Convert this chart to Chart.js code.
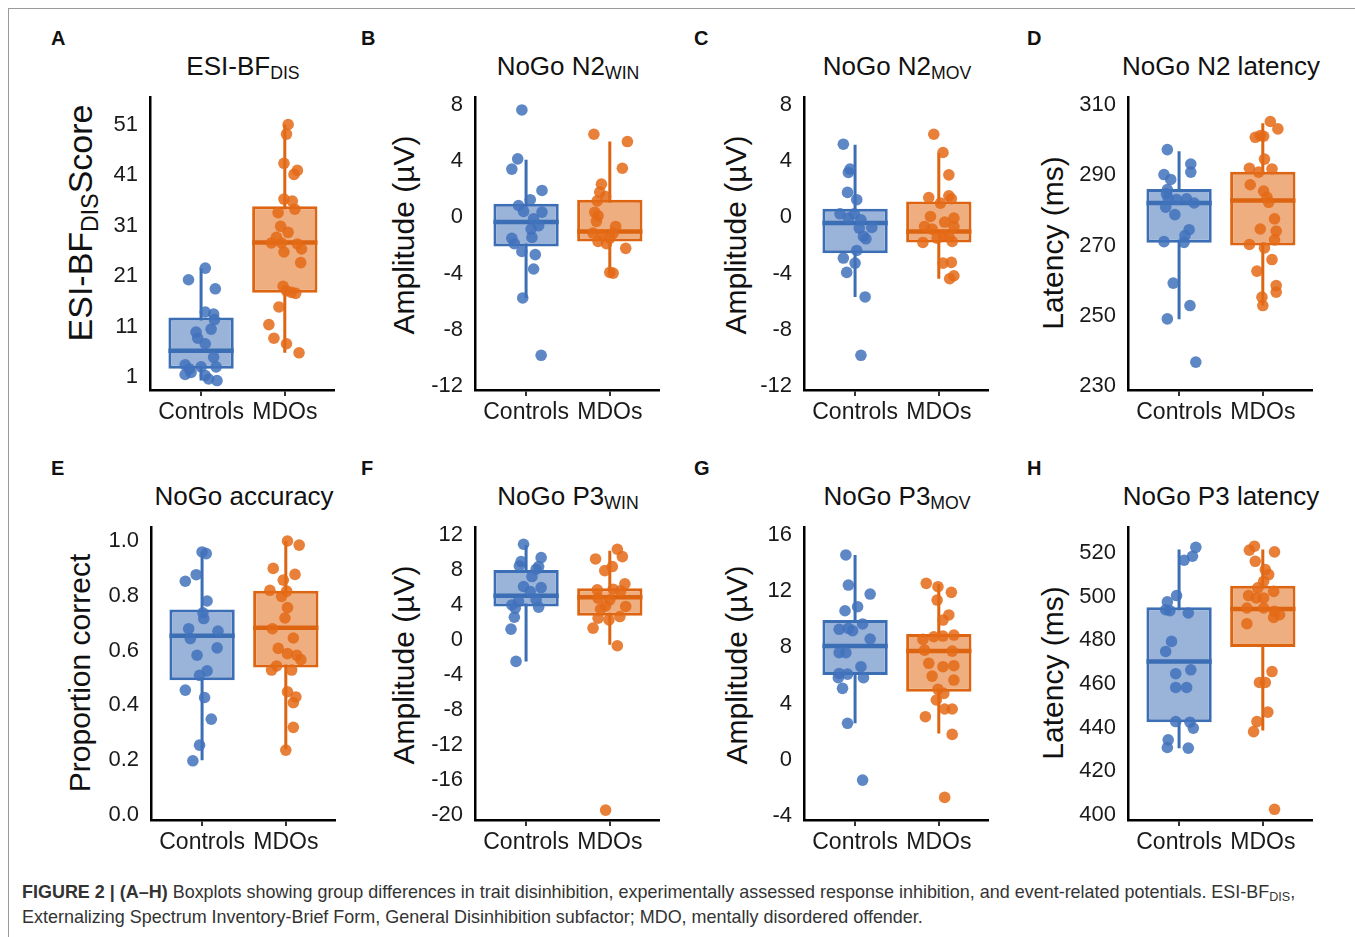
<!DOCTYPE html>
<html>
<head>
<meta charset="utf-8">
<script src="https://cdn.jsdelivr.net/npm/chart.js@4.4.0/dist/chart.umd.min.js"></script>
<style>
body { margin: 0; width: 1355px; height: 937px; position: relative; overflow: hidden; background: #fff;
       font-family: "Liberation Sans", Arial, sans-serif; color: #111; }
.frame { position: absolute; left: 8px; top: 8px; width: 1400px; height: 1000px;
         border-left: 1px solid #9a9a9a; border-top: 1px solid #9a9a9a; }
.letter { position: absolute; font-weight: bold; font-size: 20px; line-height: 20px; }
.title { position: absolute; width: 320px; margin-left: -160px; text-align: center; font-size: 26px;
         line-height: 26px; white-space: nowrap; }
.title sub, .ytitle sub { font-size: 0.68em; vertical-align: -0.25em; line-height: 0; }
.ytitle { position: absolute; font-size: 30px; line-height: 30px; white-space: nowrap;
          transform: translate(-50%, -50%) rotate(-90deg); }
canvas { position: absolute; }
.caption { position: absolute; left: 22px; top: 879px; font-family: "Liberation Sans", Arial, sans-serif;
           font-size: 19px; line-height: 25px; color: #333; white-space: nowrap;
           transform: scaleX(0.945); transform-origin: 0 0; }
.caption sub { font-size: 0.7em; vertical-align: -0.2em; line-height: 0; }
</style>
</head>
<body>
<div class="frame"></div>

<script>
const groups = ['Controls', 'MDOs'];

// each point: [horizontal jitter from group centre, value]
// box stats: [lower whisker, Q1, median, Q3, upper whisker]

// A  ESI-BF DIS
const aTicks = [1, 11, 21, 31, 41, 51];
const aCtrl = [[0.05,22.6],[-0.15,20.3],[0.17,18.5],[0.05,13.9],[0.15,13.5],[0.16,12.4],[0.12,10.5],[-0.06,9.9],[-0.04,8.7],[0.05,7.6],
  [0.15,4.9],[-0.19,3.4],[-0.14,2.6],[0,3.0],[0.18,3.0],[-0.19,1.5],[-0.12,1.9],[0.05,1.3],[0.09,0.6],[0.19,0.3]];
const aMdo = [[0.04,51.1],[0.02,49.2],[-0.01,43.4],[0.15,42.0],[0.11,41.2],[-0.01,36.3],[0.09,35.9],[-0.08,33.6],[0.12,34.3],[-0.05,30.9],
  [0.04,29.7],[-0.1,28.7],[-0.16,27.6],[-0.04,27.6],[0.15,27.4],[0.2,26.4],[-0.01,25.8],[0.19,23.7],[-0.02,19.0],[0.02,18.1],
  [0.08,17.8],[0.13,17.6],[-0.07,14.9],[-0.19,11.4],[-0.13,8.7],[0.02,7.6],[0.17,5.8]];
const aCtrlBox = [0.3, 2.65, 6.2, 12.8, 22.6];
const aMdoBox = [5.8, 17.7, 27.7, 34.9, 51.1];

// B  NoGo N2 WIN
const bTicks = [8, 4, 0, -4, -8, -12];
const bCtrl = [[-0.05,7.65],[-0.1,4.17],[-0.17,3.44],[0.19,1.92],[0.05,1.26],[-0.09,0.85],[-0.03,0.43],[0.19,0.38],[0.09,-0.09],[0.15,-0.59],
  [0.06,-0.83],[-0.17,-1.49],[0.07,-1.42],[-0.14,-1.87],[-0.05,-2.42],[0.11,-2.65],[0.09,-3.67],[-0.04,-5.73],[0.18,-9.81]];
const bMdo = [[-0.19,5.92],[0.21,5.4],[0.15,3.5],[-0.1,2.37],[-0.12,1.8],[-0.05,1.49],[-0.15,1.18],[-0.18,0.36],[-0.14,0.12],[-0.16,-0.28],
  [0.07,-0.64],[-0.2,-1.11],[-0.09,-1.23],[0.04,-1.11],[0,-1.47],[-0.14,-1.71],[-0.04,-1.87],[0.19,-2.2],[0,-3.91],[0.04,-3.96]];
const bCtrlBox = [-5.73, -2.06, -0.33, 0.97, 4.1];
const bMdoBox = [-3.96, -1.71, -1.0, 1.26, 5.4];

// C  NoGo N2 MOV
const cTicks = [8, 4, 0, -4, -8, -12];
const cCtrl = [[-0.14,5.21],[-0.06,3.44],[-0.08,3.2],[-0.09,1.78],[0.02,1.26],[-0.18,0.26],[-0.01,0.26],[-0.08,-0.05],[0.07,-0.17],[0.05,-0.76],
  [0.2,-0.71],[0.1,-1.35],[0.13,-1.52],[0.02,-2.35],[-0.14,-2.89],[0,-3.25],[-0.1,-3.91],[0.12,-5.66],[0.07,-9.81]];
const cMdo = [[-0.06,5.92],[0.05,4.62],[0.12,3.03],[-0.12,1.42],[0.12,1.54],[0.15,1.33],[0.02,1.02],[-0.1,0.07],[0.18,-0.05],[0.07,-0.33],
  [0.18,-0.64],[-0.17,-0.64],[-0.08,-0.83],[0.05,-1.23],[-0.02,-1.47],[-0.19,-1.78],[0.16,-1.71],[0.12,-1.35],[0.05,-3.25],[0.15,-3.2],
  [0.13,-4.36],[0.18,-4.15]];
const cCtrlBox = [-5.66, -2.54, -0.4, 0.62, 5.17];
const cMdoBox = [-4.36, -1.78, -1.0, 1.14, 4.57];

// D  NoGo N2 latency
const dTicks = [310, 290, 270, 250, 230];
const dCtrl = [[-0.14,297.3],[0.14,293.2],[0.14,290.9],[-0.18,290.2],[-0.1,288.8],[-0.14,285.9],[-0.15,284.7],[-0.13,283.5],[-0.03,283.1],[0.09,283.3],
  [0.18,282.1],[-0.16,280.9],[-0.05,278.8],[0.12,274.5],[0.07,272.8],[0.06,270.9],[-0.18,271.1],[-0.07,259.3],[0.13,252.9],[-0.14,249.1],[0.2,236.8]];
const dMdo = [[0.09,305.3],[0.18,303.2],[-0.03,301.3],[-0.09,300.8],[0.01,301.1],[0.02,294.6],[-0.16,292.0],[0.11,291.8],[-0.05,290.9],[-0.15,287.3],
  [0.01,285.5],[0.05,283.7],[0.07,282.3],[0.14,277.6],[-0.03,274.7],[0.16,274.1],[0.14,271.6],[-0.16,270.3],[0.02,269.3],[0.11,266.0],
  [-0.07,262.7],[0.16,258.6],[0.16,256.7],[-0.01,255.3],[0,252.9]];
const dCtrlBox = [249.0, 270.8, 282.1, 286.1, 296.8];
const dMdoBox = [252.9, 270.0, 282.8, 291.0, 304.8];

// E  NoGo accuracy
const eTicks = [1.0, 0.8, 0.6, 0.4, 0.2, 0.0];
const eCtrl = [[0,0.96],[0.05,0.954],[-0.07,0.877],[-0.2,0.853],[0.06,0.781],[0.01,0.738],[0.02,0.717],[-0.16,0.68],[0.19,0.671],[-0.14,0.644],
  [0.18,0.61],[-0.06,0.583],[0.06,0.526],[-0.03,0.51],[-0.2,0.456],[0.03,0.429],[0.11,0.35],[-0.03,0.255],[-0.11,0.198]];
const eMdo = [[0.02,1.0],[0.16,0.985],[-0.15,0.9],[0.11,0.878],[-0.03,0.857],[-0.19,0.82],[0.01,0.817],[-0.05,0.798],[0.02,0.757],[-0.01,0.719],
  [-0.16,0.68],[0.09,0.646],[-0.09,0.608],[0.02,0.589],[0.13,0.583],[0.18,0.567],[-0.11,0.544],[-0.17,0.529],[0.07,0.529],[0.02,0.45],
  [0.12,0.431],[0.09,0.41],[0.09,0.32],[0,0.237]];
const eCtrlBox = [0.2, 0.492, 0.654, 0.75, 0.96];
const eMdoBox = [0.24, 0.538, 0.683, 0.818, 1.0];

// F  NoGo P3 WIN
const fTicks = [12, 8, 4, 0, -4, -8, -12, -16, -20];
const fCtrl = [[-0.03,10.94],[-0.06,8.96],[0.18,9.41],[-0.08,8.46],[0.15,8.39],[0.12,8.08],[0.07,7.25],[-0.03,6.11],[0.18,5.99],[0.05,5.54],
  [-0.17,4.0],[-0.09,4.4],[0.12,4.6],[0.15,3.75],[-0.13,3.63],[-0.14,2.6],[-0.18,1.24],[-0.12,-2.45]];
const fMdo = [[-0.17,9.26],[0.09,10.37],[0.15,9.53],[0.03,8.39],[-0.06,7.93],[0.18,6.41],[-0.15,5.73],[0.04,5.8],[0.13,5.61],[-0.14,4.78],
  [0,4.59],[-0.05,3.9],[0.19,3.83],[-0.11,3.52],[0.12,2.68],[-0.14,2.49],[-0.01,2.3],[-0.2,1.35],[0.09,-0.66],[-0.05,-19.44]];
const fCtrlBox = [-2.45, 3.83, 5.04, 8.0, 10.86];
const fMdoBox = [-0.55, 2.76, 4.89, 5.92, 10.2];

// G  NoGo P3 MOV
const gTicks = [16, 12, 8, 4, 0, -4];
const gCtrl = [[-0.11,14.58],[-0.08,12.44],[0.18,11.8],[0.03,10.9],[-0.12,10.61],[0.09,9.67],[-0.19,9.29],[-0.08,9.36],[-0.03,9.19],[0.18,8.6],
  [-0.19,7.63],[-0.11,7.63],[0.07,6.63],[-0.19,6.15],[-0.09,6.1],[0.1,5.85],[-0.2,5.85],[-0.15,5.09],[-0.09,2.6],[0.09,-1.44]];
const gMdo = [[-0.15,12.56],[-0.01,12.32],[0.15,11.92],[-0.02,11.37],[0.12,10.31],[0.05,9.95],[-0.19,8.57],[-0.06,8.76],[0.18,8.88],[0.05,8.81],
  [-0.17,7.81],[0.16,7.74],[-0.12,6.87],[0.18,6.7],[0.05,6.63],[-0.08,5.96],[0.18,5.68],[-0.01,5.02],[0.06,4.73],[-0.03,4.26],
  [0.07,3.62],[0.16,3.62],[-0.16,3.07],[0.16,1.81],[0.07,-2.67]];
const gCtrlBox = [2.6, 6.04, 8.1, 9.95, 14.58];
const gMdoBox = [1.88, 4.85, 7.74, 8.95, 12.51];

// H  NoGo P3 latency
const hTicks = [520, 500, 480, 460, 440, 420, 400];
const hCtrl = [[0.2,522.6],[0.16,518.5],[0.06,516.7],[-0.03,500.5],[-0.14,497.6],[-0.16,494.0],[-0.11,493.6],[0.11,492.5],[-0.09,479.5],[-0.16,474.9],
  [0.14,466.5],[-0.04,464.7],[-0.04,458.4],[0.09,458.4],[-0.04,442.8],[0.13,442.5],[0.17,439.8],[-0.13,434.4],[-0.14,430.9],[0.11,430.6]];
const hMdo = [[-0.1,523.1],[-0.16,521.3],[0.14,520.5],[-0.09,516.2],[0.03,512.4],[0.07,510.1],[0.01,507],[-0.06,504],[0.13,502.4],[-0.17,500.5],
  [-0.08,499.4],[0.01,499.4],[-0.19,494.8],[0.01,494.8],[0.14,493.3],[0.2,491.7],[0.13,490.5],[-0.19,487.6],[0.11,465.7],[-0.04,460.7],
  [0.03,460.7],[0.06,447.1],[-0.07,442.8],[-0.11,438.2],[0.14,402.6]];
const hCtrlBox = [430.6, 442.5, 470.3, 495.1, 521.6];
const hMdoBox = [438.7, 476.9, 494.3, 505, 521.6];

const panels = [
  { letter: 'A', title: 'ESI-BF<sub>DIS</sub>', ytitle: 'ESI-BF<sub>DIS</sub>Score', yfont: 34, axisX: 150, top: 97, ytY: 223, ytX: 80,
    min: -1.58, max: 56.56, ticks: aTicks, ctrl: aCtrl, mdo: aMdo, ctrlBox: aCtrlBox, mdoBox: aMdoBox, dec: 0 },
  { letter: 'B', title: 'NoGo N2<sub>WIN</sub>', ytitle: 'Amplitude (µV)', axisX: 475, top: 97, ytY: 235, ytX: 404,
    min: -12.28, max: 8.57, ticks: bTicks, ctrl: bCtrl, mdo: bMdo, ctrlBox: bCtrlBox, mdoBox: bMdoBox, dec: 0 },
  { letter: 'C', title: 'NoGo N2<sub>MOV</sub>', ytitle: 'Amplitude (µV)', axisX: 804, top: 97, ytY: 235, ytX: 736,
    min: -12.28, max: 8.57, ticks: cTicks, ctrl: cCtrl, mdo: cMdo, ctrlBox: cCtrlBox, mdoBox: cMdoBox, dec: 0 },
  { letter: 'D', title: 'NoGo N2 latency', ytitle: 'Latency (ms)', axisX: 1128, top: 97, ytY: 243, ytX: 1053,
    min: 228.86, max: 312.28, ticks: dTicks, ctrl: dCtrl, mdo: dMdo, ctrlBox: dCtrlBox, mdoBox: dMdoBox, dec: 0 },
  { letter: 'E', title: 'NoGo accuracy', ytitle: 'Proportion correct', axisX: 151, top: 527, ytY: 673, ytX: 80,
    min: -0.018, max: 1.051, ticks: eTicks, ctrl: eCtrl, mdo: eMdo, ctrlBox: eCtrlBox, mdoBox: eMdoBox, dec: 1 },
  { letter: 'F', title: 'NoGo P3<sub>WIN</sub>', ytitle: 'Amplitude (µV)', axisX: 475, top: 527, ytY: 665, ytX: 404,
    min: -20.57, max: 12.91, ticks: fTicks, ctrl: fCtrl, mdo: fMdo, ctrlBox: fCtrlBox, mdoBox: fMdoBox, dec: 0 },
  { letter: 'G', title: 'NoGo P3<sub>MOV</sub>', ytitle: 'Amplitude (µV)', axisX: 804, top: 527, ytY: 665, ytX: 737,
    min: -4.28, max: 16.57, ticks: gTicks, ctrl: gCtrl, mdo: gMdo, ctrlBox: gCtrlBox, mdoBox: gMdoBox, dec: 0 },
  { letter: 'H', title: 'NoGo P3 latency', ytitle: 'Latency (ms)', axisX: 1128, top: 527, ytY: 673, ytX: 1053,
    min: 397.7, max: 531.9, ticks: hTicks, ctrl: hCtrl, mdo: hMdo, ctrlBox: hCtrlBox, mdoBox: hMdoBox, dec: 0 }
];

const letterX = { A: 51, B: 361, C: 694, D: 1027, E: 51, F: 361, G: 694, H: 1027 };

const BLUE = '#3b6eb4', BLUE_FILL = '#9ab4d9', BLUE_PT = 'rgba(66,114,188,0.85)';
const ORANGE = '#dd6410', ORANGE_FILL = '#eeae80', ORANGE_PT = 'rgba(228,106,22,0.85)';
const HALF = 0.39;             // half box width in x units
const X_MIN = 0.39, X_MAX = 2.59;
const Y_W = 100, X_H = 45, PAD_T = 30, PLOT_W = 186, PLOT_H = 293;
const FONT = "'Liberation Sans', Arial, sans-serif";

function addDiv(cls, html, css) {
  const d = document.createElement('div');
  d.className = cls;
  d.innerHTML = html;
  Object.assign(d.style, css);
  document.body.appendChild(d);
}

function boxSets(stats, centre, line) {
  const [lo, q1, med, q3, hi] = stats;
  return [
    { type: 'line', data: [{ x: centre, y: lo }, { x: centre, y: hi }], borderColor: line, borderWidth: 3,
      pointRadius: 0, order: 4 },
    { type: 'line', data: [{ x: centre - HALF, y: med }, { x: centre + HALF, y: med }], borderColor: line,
      borderWidth: 4.5, pointRadius: 0, order: 2 }
  ];
}

panels.forEach(p => {
  const rowTop = p.top;
  addDiv('letter', p.letter, { left: letterX[p.letter] + 'px', top: (rowTop - 69) + 'px' });
  addDiv('title', p.title, { left: (p.axisX + PLOT_W / 2) + 'px', top: (rowTop - 44) + 'px' });
  addDiv('ytitle', p.ytitle, { left: p.ytX + 'px', top: p.ytY + 'px', fontSize: (p.yfont || 30) + 'px' });

  const cv = document.createElement('canvas');
  const W = Y_W + PLOT_W + 4, H = PAD_T + PLOT_H + X_H;
  cv.width = W; cv.height = H;
  cv.style.left = (p.axisX - Y_W) + 'px';
  cv.style.top = (p.top - PAD_T) + 'px';
  document.body.appendChild(cv);

  const datasets = [
    ...boxSets(p.ctrlBox, 1, BLUE),
    ...boxSets(p.mdoBox, 2, ORANGE),
    { type: 'bar', data: [{ x: 1, y: [p.ctrlBox[1], p.ctrlBox[3]] }, { x: 2, y: [p.mdoBox[1], p.mdoBox[3]] }],
      backgroundColor: [BLUE_FILL, ORANGE_FILL], borderColor: [BLUE, ORANGE], borderWidth: 3, borderSkipped: false,
      barPercentage: HALF * 2, categoryPercentage: 1, order: 3 },
    { type: 'scatter', data: p.ctrl.map(([dx, v]) => ({ x: 1 + dx, y: v })), backgroundColor: BLUE_PT,
      borderWidth: 0, pointRadius: 5.8, order: 1 },
    { type: 'scatter', data: p.mdo.map(([dx, v]) => ({ x: 2 + dx, y: v })), backgroundColor: ORANGE_PT,
      borderWidth: 0, pointRadius: 5.8, order: 1 }
  ];

  new Chart(cv.getContext('2d'), {
    type: 'scatter',
    data: { datasets },
    options: {
      responsive: false,
      animation: false,
      devicePixelRatio: 1,
      layout: { padding: { top: PAD_T, right: 4, left: 0, bottom: 0 } },
      plugins: { legend: { display: false }, tooltip: { enabled: false } },
      scales: {
        x: {
          type: 'linear', min: X_MIN, max: X_MAX, offset: false,
          afterBuildTicks: s => { s.ticks = [{ value: 1 }, { value: 2 }]; },
          afterFit: s => { s.height = X_H; },
          ticks: { callback: (v, i) => groups[i], font: { family: FONT, size: 23 }, color: '#1a1a1a',
                   padding: 3, maxRotation: 0, autoSkip: false },
          grid: { offset: false, drawOnChartArea: false, drawTicks: true, tickLength: 6, color: '#333', lineWidth: 2 },
          border: { display: true, color: '#000', width: 2.5 }
        },
        y: {
          type: 'linear', min: p.min, max: p.max,
          afterBuildTicks: s => { s.ticks = p.ticks.map(v => ({ value: v })); },
          afterFit: s => { s.width = Y_W; },
          ticks: { callback: v => v.toFixed(p.dec), font: { family: FONT, size: 22 }, color: '#1a1a1a', padding: 12 },
          grid: { display: false, drawTicks: false },
          border: { display: true, color: '#000', width: 2.5 }
        }
      }
    }
  });
});

addDiv('caption',
  '<b>FIGURE 2 | (A–H)</b> Boxplots showing group differences in trait disinhibition, experimentally assessed response inhibition, and event-related potentials. ESI-BF<sub>DIS</sub>,<br>' +
  'Externalizing Spectrum Inventory-Brief Form, General Disinhibition subfactor; MDO, mentally disordered offender.', {});
</script>
</body>
</html>
